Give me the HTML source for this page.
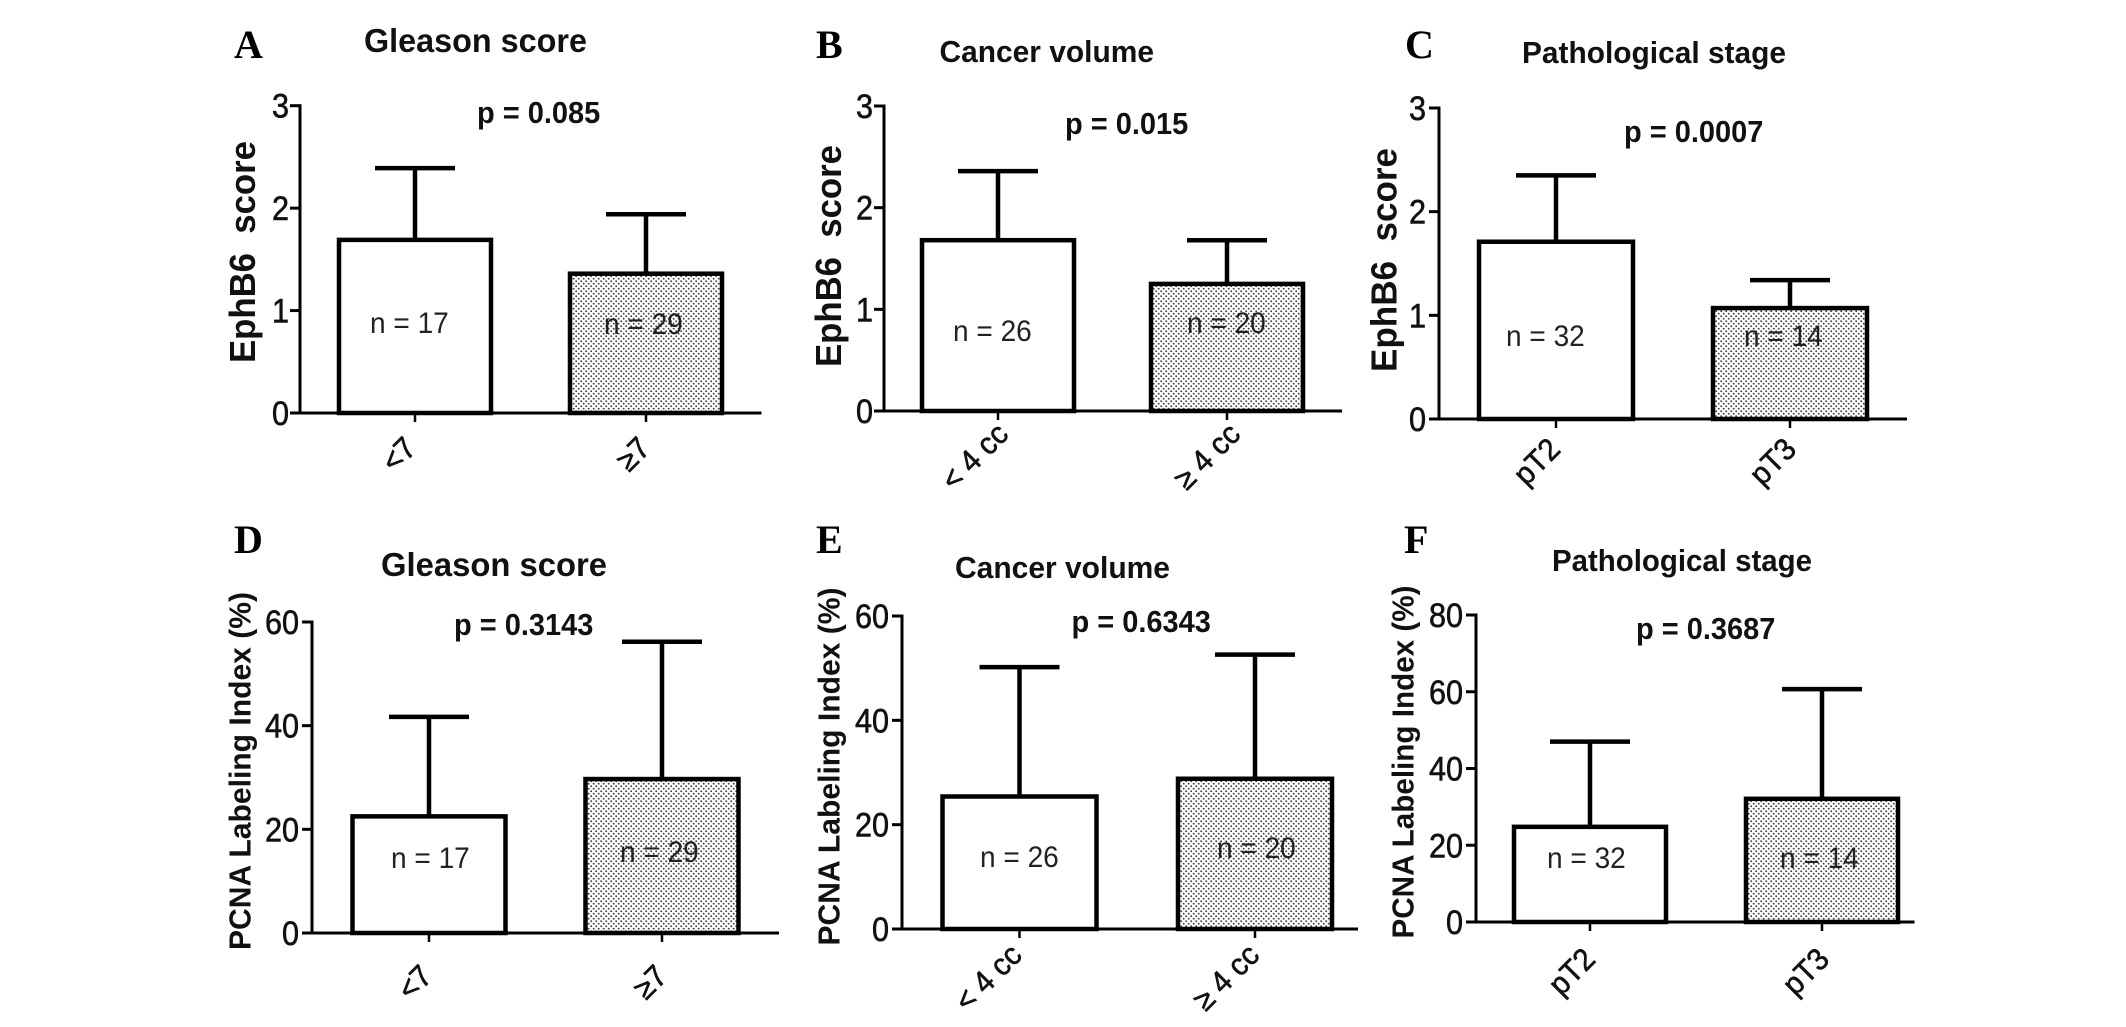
<!DOCTYPE html>
<html lang="en">
<head>
<meta charset="utf-8">
<title>EphB6 score and PCNA labeling index bar charts</title>
<style>
html,body{margin:0;padding:0;background:#fff;width:2126px;height:1027px;overflow:hidden}
svg{display:block}
text{font-family:"Liberation Sans",sans-serif;fill:#111;white-space:pre}
.letter{font-family:"Liberation Serif",serif;font-weight:700;font-size:40px;fill:#000}
.title{font-weight:700}
.pval{font-weight:700;font-size:31px}
.ytitle{font-weight:700}
.ytick{font-size:34px;text-anchor:end;stroke:#111;stroke-width:.6px}
.xlab{font-size:31px;text-anchor:end;stroke:#111;stroke-width:.6px}
.nlab{font-size:30px;fill:#222}
</style>
</head>
<body>
<svg id="figure" xmlns="http://www.w3.org/2000/svg" width="2126" height="1027" viewBox="0 0 2126 1027">
  <defs>
    <pattern id="dots" patternUnits="userSpaceOnUse" width="5" height="5">
      <rect width="5" height="5" fill="#fff"/>
      <circle cx="1.2" cy="1.2" r="0.95" fill="#444"/>
      <circle cx="3.7" cy="3.7" r="0.95" fill="#444"/>
    </pattern>
  </defs>
</svg>
<script>
// ---- chart data ----
const panelLetters = ['A', 'B', 'C', 'D', 'E', 'F'];
const panelTitles = ['Gleason score', 'Cancer volume', 'Pathological stage', 'Gleason score', 'Cancer volume', 'Pathological stage'];
const yAxisTitles = ['EphB6  score', 'EphB6  score', 'EphB6  score', 'PCNA Labeling Index (%)', 'PCNA Labeling Index (%)', 'PCNA Labeling Index (%)'];
const yTickLabels = [[0, 1, 2, 3], [0, 1, 2, 3], [0, 1, 2, 3], [0, 20, 40, 60], [0, 20, 40, 60], [0, 20, 40, 60, 80]];
const categories = [['<7', '≥7'], ['< 4 cc', '≥ 4 cc'], ['pT2', 'pT3'], ['<7', '≥7'], ['< 4 cc', '≥ 4 cc'], ['pT2', 'pT3']];
const barMeans = [[1.69, 1.36], [1.68, 1.25], [1.71, 1.07], [22.5, 29.7], [25.4, 28.8], [24.8, 32.1]];
const barUpperErrors = [[2.39, 1.94], [2.36, 1.68], [2.35, 1.34], [41.7, 56.2], [50.2, 52.6], [47.0, 60.7]];
const sampleSizes = [[17, 29], [26, 20], [32, 14], [17, 29], [26, 20], [32, 14]];
const pValues = ['0.085', '0.015', '0.0007', '0.3143', '0.6343', '0.3687'];

// ---- page layout (not data) ----
const frames = [
  {ax:300, top:105.7, zero:413, end:761.5, c0:415, c1:646, bw:152,
   letter:[234,58], title:[364,52,223,32], p:[477,123], yt:[255,252,222,36], yr:289,
   n:[[370,333],[604,334]], xl:[[3,37],[6,37]]},
  {ax:884, top:106, zero:411, end:1342, c0:998, c1:1227, bw:152,
   letter:[816,58], title:[939.5,62,214.5,30], p:[1065,134], yt:[841,256,222,36], yr:873,
   n:[[953,341],[1187,333]], xl:[[12,25],[15,25]]},
  {ax:1439, top:108, zero:419, end:1907, c0:1556, c1:1790, bw:154,
   letter:[1405,58], title:[1522,63,264,30], p:[1624,142], yt:[1396.5,260,224,36], yr:1426,
   n:[[1506,346],[1744,346]], xl:[[6,32],[8,32]]},
  {ax:312, top:622, zero:933, end:779, c0:429, c1:662, bw:153,
   letter:[234,553], title:[381,576,226,32.5], p:[454,635], yt:[250.6,771,358,31], yr:299,
   n:[[391,868],[620,862]], xl:[[5,45],[7,45]]},
  {ax:902, top:616, zero:929, end:1358, c0:1019.5, c1:1255, bw:154,
   letter:[816,553], title:[955,578,215,30], p:[1071.5,632], yt:[839.4,766.5,358,31], yr:889,
   n:[[980,867],[1217,858]], xl:[[4,28],[6,28]]},
  {ax:1476, top:615, zero:922, end:1914.5, c0:1590, c1:1822, bw:152,
   letter:[1404,553], title:[1552,571,260,29.5], p:[1636,639], yt:[1413.5,762,353,31], yr:1463,
   n:[[1547,868],[1780,868]], xl:[[7,39],[9,39]]}
];

const SVGNS = 'http://www.w3.org/2000/svg';
const svg = document.getElementById('figure');

function mk(tag, attrs, parent, txt) {
  const e = document.createElementNS(SVGNS, tag);
  for (const k in attrs) e.setAttribute(k, attrs[k]);
  if (txt !== undefined) e.textContent = txt;
  parent.appendChild(e);
  return e;
}
function line(x1, y1, x2, y2, w, parent) {
  return mk('line', {x1: x1, y1: y1, x2: x2, y2: y2, stroke: '#000', 'stroke-width': w}, parent);
}
// the source glyphs are taller and narrower than the font's natural proportions
function condense(el, ratio) {
  el.setAttribute('textLength', (el.getComputedTextLength() * ratio).toFixed(2));
  el.setAttribute('lengthAdjust', 'spacingAndGlyphs');
}

panelLetters.forEach(function (letter, p) {
  const f = frames[p];
  const ticks = yTickLabels[p];
  const yMax = ticks[ticks.length - 1];
  const yScale = function (v) { return f.zero - (v / yMax) * (f.zero - f.top); };
  const xScale = function (i) { return f.c0 + i * (f.c1 - f.c0); };

  const g = mk('g', {}, svg);
  
  

  const lt = mk('text', {class: 'letter', x: f.letter[0], y: f.letter[1]}, g, letter);
  
  

  const tt = mk('text', {class: 'title', x: f.title[0], y: f.title[1], 'font-size': f.title[3] + 1, textLength: f.title[2], lengthAdjust: 'spacingAndGlyphs'}, g, panelTitles[p]);
  
  

  const pv = mk('text', {class: 'pval', x: f.p[0], y: f.p[1]}, g, 'p = ' + pValues[p]);
  condense(pv, 0.935);
  
  

  const yt = mk('text', {class: 'ytitle', 'font-size': f.yt[3], 'text-anchor': 'middle', textLength: f.yt[2], lengthAdjust: 'spacingAndGlyphs',
    transform: 'translate(' + f.yt[0] + ',' + f.yt[1] + ') rotate(-90)'}, g, yAxisTitles[p]);
  
  

  // bars
  categories[p].forEach(function (cat, i) {
    const cx = xScale(i);
    const yMean = yScale(barMeans[p][i]);
    const yErr = yScale(barUpperErrors[p][i]);

    const stem = line(cx, yErr, cx, yMean, 4.5, g);
    
    

    const cap = line(cx - 40, yErr, cx + 40, yErr, 4.5, g);
    
    

    const bar = mk('rect', {x: cx - f.bw / 2, y: yMean, width: f.bw, height: f.zero - yMean,
      fill: i === 0 ? '#fff' : 'url(#dots)', stroke: '#000', 'stroke-width': 4.5}, g);
    
    

    const nl = mk('text', {class: 'nlab', x: f.n[i][0], y: f.n[i][1]}, g, 'n = ' + sampleSizes[p][i]);
    condense(nl, 0.935);
    
    

    const xt = line(cx, f.zero, cx, f.zero + 9, 2.5, g);
    
    

    const xl = mk('text', {class: 'xlab',
      transform: 'translate(' + (cx + f.xl[i][0]) + ',' + (f.zero + f.xl[i][1]) + ') rotate(-45)'}, g, cat);
    condense(xl, 0.95);
    
    
  });

  // axes
  const ya = line(f.ax, f.top - 1.5, f.ax, f.zero, 3, g);
  
  

  const xa = line(f.ax - 10, f.zero, f.end, f.zero, 3, g);
  
  

  ticks.forEach(function (t) {
    const y = yScale(t);
    const tk = line(f.ax - 10, y, f.ax, y, 3, g);
    
    

    const tl = mk('text', {class: 'ytick', x: f.yr, y: y + 12}, g, String(t));
    condense(tl, 0.9);
    
    
  });
});
</script>
</body>
</html>
